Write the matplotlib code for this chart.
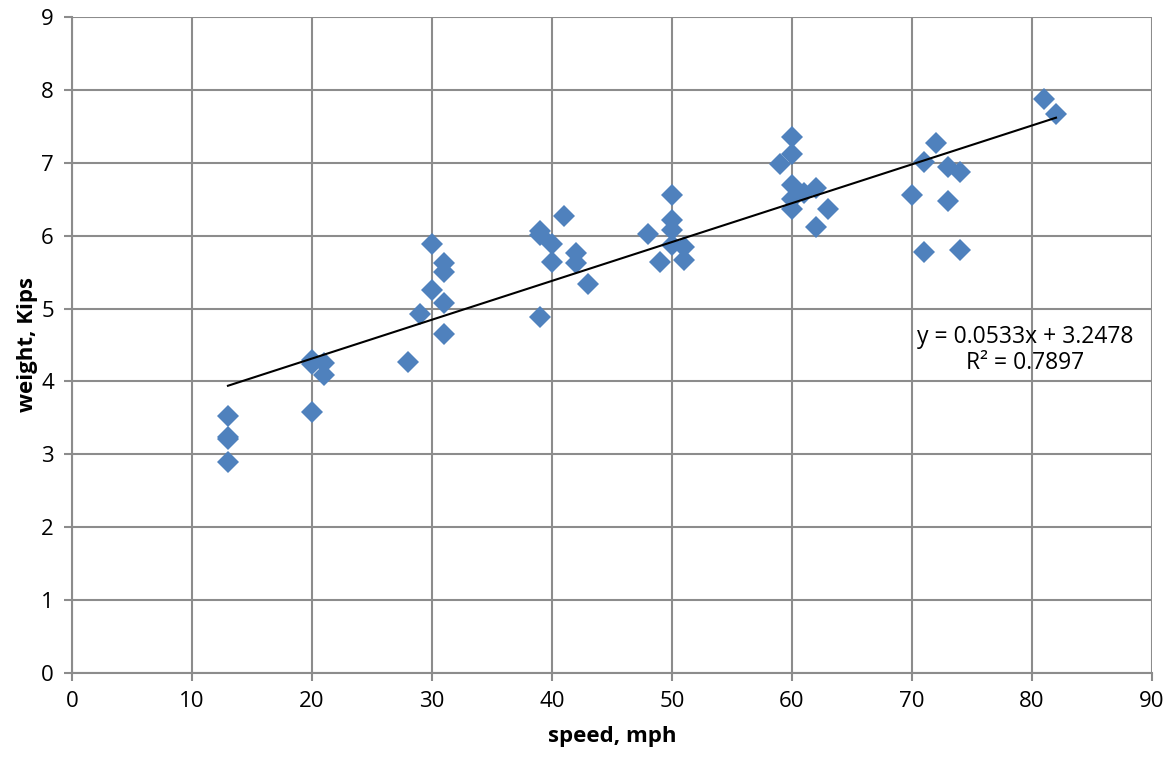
import numpy as np
import matplotlib.pyplot as plt

# speed (mph) and weight (kips)
speed = [13, 13, 13, 13,
         20, 20, 20, 21, 21,
         28, 29, 30, 30, 31, 31, 31, 31,
         39, 39, 39, 40, 40, 41, 42, 42, 43,
         48, 49, 50, 50, 50, 50, 51, 51,
         59, 60, 60, 60, 60, 60, 61, 62, 62, 63,
         70, 71, 71, 72, 73, 73, 74, 74,
         81, 82]
weight = [3.53, 3.24, 3.21, 2.90,
          4.29, 4.24, 3.58, 4.25, 4.09,
          4.27, 4.92, 5.89, 5.26, 5.62, 5.50, 5.08, 4.65,
          6.06, 6.01, 4.88, 5.88, 5.64, 6.27, 5.76, 5.62, 5.34,
          6.02, 5.64, 6.56, 6.22, 6.08, 5.87, 5.84, 5.66,
          6.99, 7.36, 7.12, 6.69, 6.50, 6.37, 6.58, 6.65, 6.12, 6.36,
          6.56, 7.01, 5.78, 7.27, 6.94, 6.47, 6.88, 5.80,
          7.87, 7.67]

slope, intercept = 0.0533, 3.2478
r2 = 0.7897

plt.rcParams['font.family'] = ['Open Sans', 'DejaVu Sans']
fig = plt.figure(figsize=(11.68, 7.63), dpi=100)
ax = fig.add_axes([0.0616, 0.118, 0.9247, 0.8597])

ax.plot(speed, weight, 'D', color='#4F81BD', markersize=11.5, markeredgewidth=0, zorder=3)

# trend line over the data range
xs = np.array([min(speed), max(speed)])
ax.plot(xs, slope * xs + intercept, color='black', linewidth=1.5, zorder=4)

ax.text(79.4, 4.43, f'y = {slope}x + {intercept}\nR² = {r2}', ha='center', va='center',
        fontsize=16.5, linespacing=1.15, zorder=5)

ax.set_xlim(0, 90)
ax.set_ylim(0, 9)
ax.set_xticks(range(0, 91, 10))
ax.set_yticks(range(0, 10))
ax.grid(True, color='#8c8c8c', linewidth=1.5)
ax.set_axisbelow(True)
for s in ['top', 'right']:
    ax.spines[s].set_visible(False)
for s in ['left', 'bottom']:
    ax.spines[s].set_color('#8c8c8c')
    ax.spines[s].set_linewidth(1.5)
ax.tick_params(axis='both', length=6, width=1.5, color='#8c8c8c', labelsize=16, pad=7)

ax.set_xlabel('speed, mph', fontsize=16, fontweight='bold', labelpad=10)
ax.set_ylabel('weight, Kips', fontsize=16, fontweight='bold', labelpad=2)

fig.savefig('out.png', dpi=100)
